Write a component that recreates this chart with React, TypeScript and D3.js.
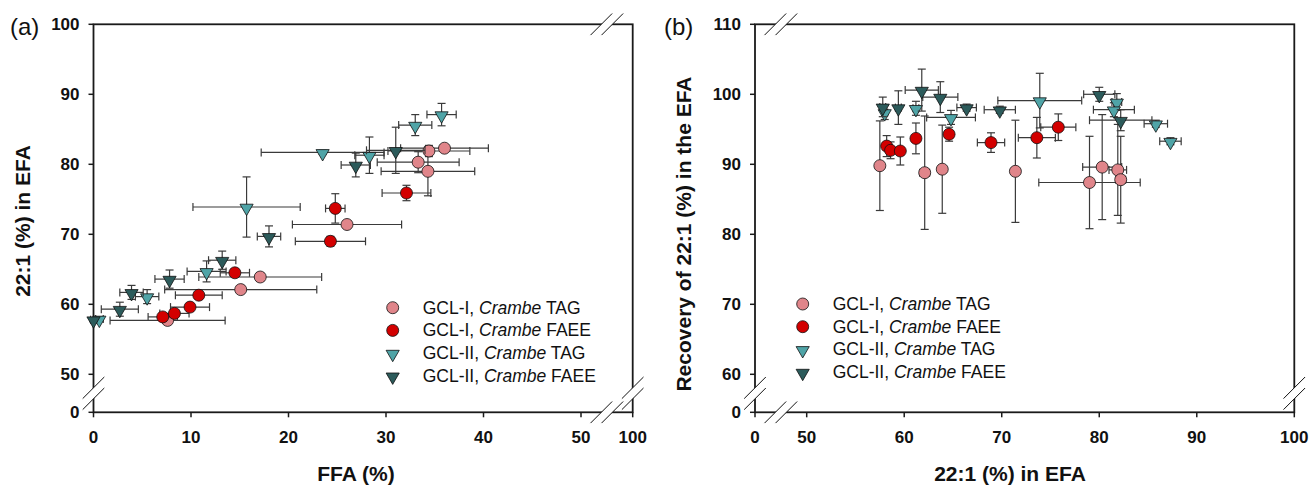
import React from 'react';
import * as d3 from 'd3';

// panel (a): FFA (%) vs 22:1 (%) in EFA
const aTagI_x = [36.0, 34.4, 33.3, 34.3, 26.0, 17.1, 15.1, 7.6];
const aTagI_y = [82.3, 81.9, 80.3, 79.0, 71.4, 63.9, 62.1, 57.7];
const aTagI_xe = [4.5, 4.2, 4.2, 4.8, 5.6, 6.3, 7.8, 5.9];
const aTagI_ye = [0.5, 0.8, 1.5, 3.5, 0.5, 0.6, 0.5, 0.5];

const aFaeeI_x = [32.1, 24.8, 24.3, 14.5, 10.8, 9.9, 8.3, 7.1];
const aFaeeI_y = [75.9, 73.7, 69.0, 64.5, 61.3, 59.6, 58.7, 58.2];
const aFaeeI_xe = [2.5, 1.0, 3.6, 1.5, 2.4, 2.0, 1.5, 1.5];
const aFaeeI_ye = [1.1, 2.1, 0.7, 0.5, 0.5, 0.5, 0.5, 0.5];

const aTagII_x = [35.7, 33.0, 23.5, 28.3, 15.7, 11.6, 5.5, 0.6];
const aTagII_y = [87.1, 85.6, 81.7, 81.3, 73.9, 64.7, 61.1, 57.9];
const aTagII_xe = [1.5, 1.7, 6.3, 1.5, 5.5, 2.0, 1.2, 0.4];
const aTagII_ye = [1.6, 1.5, 0.3, 2.6, 4.3, 1.5, 1.0, 0.3];

const aFaeeII_x = [31.0, 26.9, 18.0, 13.2, 7.8, 3.9, 2.7, 0.0];
const aFaeeII_y = [82.0, 79.9, 69.7, 66.3, 63.6, 61.7, 59.3, 57.8];
const aFaeeII_xe = [3.0, 1.5, 1.2, 1.4, 1.5, 1.2, 1.9, 0.3];
const aFaeeII_ye = [3.3, 1.7, 1.5, 1.3, 1.3, 1.0, 1.0, 0.3];

// panel (b): 22:1 (%) in EFA vs recovery of 22:1 (%)
const bTagI_x = [57.5, 62.1, 63.9, 71.4, 79.0, 80.3, 81.9, 82.2];
const bTagI_y = [89.8, 88.8, 89.3, 89.0, 87.4, 89.6, 89.2, 87.8];
const bTagI_xe = [0.3, 0.5, 0.3, 0.3, 5.2, 2.0, 0.9, 0.5];
const bTagI_ye = [6.4, 8.1, 6.3, 7.3, 6.6, 7.5, 6.5, 6.2];

const bFaeeI_x = [58.2, 58.6, 59.6, 61.2, 64.6, 68.9, 73.6, 75.8];
const bFaeeI_y = [92.6, 92.0, 91.9, 93.7, 94.3, 93.1, 93.8, 95.3];
const bFaeeI_xe = [0.3, 0.3, 0.3, 0.3, 0.4, 1.4, 1.9, 1.8];
const bFaeeI_ye = [1.5, 1.2, 2.0, 2.2, 1.0, 1.4, 2.9, 1.9];

const bTagII_x = [58.0, 61.2, 64.8, 73.9, 81.8, 81.5, 85.8, 87.3];
const bTagII_y = [97.4, 98.0, 96.7, 99.1, 98.9, 97.8, 95.8, 93.3];
const bTagII_xe = [0.3, 0.3, 2.5, 4.3, 0.5, 2.1, 1.2, 1.1];
const bTagII_ye = [1.0, 1.0, 1.0, 3.9, 1.2, 1.0, 0.5, 0.5];

const bFaeeII_x = [57.8, 59.4, 61.8, 63.7, 66.4, 69.8, 80.0, 82.2];
const bFaeeII_y = [98.2, 98.1, 100.6, 99.6, 98.1, 97.8, 100.0, 96.3];
const bFaeeII_xe = [0.3, 0.3, 1.7, 1.8, 1.0, 1.6, 1.6, 3.2];
const bFaeeII_ye = [1.4, 2.4, 3.0, 2.2, 0.5, 0.5, 1.0, 1.5];

const aXTicks = [0, 10, 20, 30, 40, 50, 100];
const aYTicks = [0, 50, 60, 70, 80, 90, 100];
const bXTicks = [0, 50, 60, 70, 80, 90, 100];
const bYTicks = [0, 60, 70, 80, 90, 100, 110];

const legendNames = ['GCL-I, ', 'GCL-I, ', 'GCL-II, ', 'GCL-II, '];
const legendTails = [' TAG', ' FAEE', ' TAG', ' FAEE'];

const colors = ['#e0858a', '#d30000', '#4fa4a7', '#2c5b5b'];
const shapes = ['circle', 'circle', 'tri', 'tri'];

const FONT = '"Liberation Sans", Arial, Helvetica, sans-serif';
const BAR = '#3a3a3a';

type Series = { x: number[]; y: number[]; xe: number[]; ye: number[] };

const panelA: Series[] = [
  { x: aTagI_x, y: aTagI_y, xe: aTagI_xe, ye: aTagI_ye },
  { x: aFaeeI_x, y: aFaeeI_y, xe: aFaeeI_xe, ye: aFaeeI_ye },
  { x: aTagII_x, y: aTagII_y, xe: aTagII_xe, ye: aTagII_ye },
  { x: aFaeeII_x, y: aFaeeII_y, xe: aFaeeII_xe, ye: aFaeeII_ye },
];
const panelB: Series[] = [
  { x: bTagI_x, y: bTagI_y, xe: bTagI_xe, ye: bTagI_ye },
  { x: bFaeeI_x, y: bFaeeI_y, xe: bFaeeI_xe, ye: bFaeeI_ye },
  { x: bTagII_x, y: bTagII_y, xe: bTagII_xe, ye: bTagII_ye },
  { x: bFaeeII_x, y: bFaeeII_y, xe: bFaeeII_xe, ye: bFaeeII_ye },
];

function Marker({ shape, cx, cy, fill }: { shape: string; cx: number; cy: number; fill: string }) {
  if (shape === 'circle') {
    return <circle cx={cx} cy={cy} r={6} fill={fill} stroke="#111" strokeWidth={0.8} />;
  }
  const tri = d3.symbol().type(d3.symbolTriangle).size(75)();
  return <path d={tri as string} transform={`translate(${cx},${cy + 1}) rotate(180)`} fill={fill} stroke="#111" strokeWidth={0.8} />;
}

// two slanted strokes with a white gap, drawn across an axis line
function Break({ cx, cy, horiz }: { cx: number; cy: number; horiz: boolean }) {
  const h = 10.8;
  const gap = 5.5;
  const o1 = horiz ? [cx - gap, cy] : [cx, cy + gap];
  const o2 = horiz ? [cx + gap, cy] : [cx, cy - gap];
  const seg = (p: number[]) => `M${p[0] - h},${p[1] + h}L${p[0] + h},${p[1] - h}`;
  const poly = horiz
    ? `M${o1[0] - 3},${cy + 3}L${o2[0] - 3},${cy + 3}L${o2[0] + 3},${cy - 3}L${o1[0] + 3},${cy - 3}Z`
    : `M${cx - 3},${o1[1] + 3}L${cx + 3},${o1[1] - 3}L${cx + 3},${o2[1] - 3}L${cx - 3},${o2[1] + 3}Z`;
  return (
    <g>
      <path d={poly} fill="white" />
      <path d={seg(o1)} stroke="#111" strokeWidth={1} fill="none" />
      <path d={seg(o2)} stroke="#111" strokeWidth={1} fill="none" />
    </g>
  );
}

function Panel(props: {
  data: Series[];
  x: d3.ScaleLinear<number, number>;
  y: d3.ScaleLinear<number, number>;
  xTicks: number[];
  yTicks: number[];
  xBreak: number;
  yBreak: number;
  label: string;
  labelX: number;
  xTitle: string;
  xTitleX: number;
  yTitle: string;
  yTitleX: number;
  yTitleY: number;
  legX: number;
  legY: number;
}) {
  const { data, x, y } = props;
  const [x0, x1] = [x.range()[0], x.range()[2]];
  const [y0, y1] = [y.range()[0], y.range()[2]];
  const cap = 4;
  return (
    <g fontFamily={FONT}>
      {/* frame */}
      <rect x={x0} y={y1} width={x1 - x0} height={y0 - y1} fill="none" stroke="#1a1a1a" strokeWidth={1.8} />
      {/* ticks */}
      {props.xTicks.map((t) => (
        <g key={'xt' + t}>
          <line x1={x(t)} x2={x(t)} y1={y0} y2={y0 + 5} stroke="#1a1a1a" strokeWidth={1.5} />
          <text x={x(t)} y={y0 + 31} textAnchor="middle" fontSize={17} fontWeight="bold" fill="#111">{t}</text>
        </g>
      ))}
      {props.yTicks.map((t) => (
        <g key={'yt' + t}>
          <line x1={x0 - 5} x2={x0} y1={y(t)} y2={y(t)} stroke="#1a1a1a" strokeWidth={1.5} />
          <text x={x0 - 14} y={y(t) + 6} textAnchor="end" fontSize={17} fontWeight="bold" fill="#111">{t}</text>
        </g>
      ))}
      {/* axis breaks */}
      <Break cx={props.xBreak} cy={y0} horiz />
      <Break cx={props.xBreak} cy={y1} horiz />
      <Break cx={x0} cy={props.yBreak} horiz={false} />
      <Break cx={x1} cy={props.yBreak} horiz={false} />
      {/* titles */}
      <text x={props.xTitleX} y={481} textAnchor="middle" fontSize={21} fontWeight="bold" fill="#111">{props.xTitle}</text>
      <text transform={`translate(${props.yTitleX},${props.yTitleY}) rotate(-90)`} textAnchor="middle" fontSize={21} fontWeight="bold" fill="#111">{props.yTitle}</text>
      <text x={props.labelX} y={35} fontSize={24} fill="#111">{props.label}</text>
      {/* data */}
      {data.map((s, si) => (
        <g key={'s' + si}>
          {s.x.map((v, i) => {
            const cx = x(v);
            const cy = y(s.y[i]);
            const xl = x(v - s.xe[i]);
            const xr = x(v + s.xe[i]);
            const yt = y(s.y[i] + s.ye[i]);
            const yb = y(s.y[i] - s.ye[i]);
            return (
              <g key={'e' + i} stroke={BAR} strokeWidth={1.2} fill="none">
                <line x1={xl} x2={xr} y1={cy} y2={cy} />
                <line x1={xl} x2={xl} y1={cy - cap} y2={cy + cap} />
                <line x1={xr} x2={xr} y1={cy - cap} y2={cy + cap} />
                <line x1={cx} x2={cx} y1={yt} y2={yb} />
                <line x1={cx - cap} x2={cx + cap} y1={yt} y2={yt} />
                <line x1={cx - cap} x2={cx + cap} y1={yb} y2={yb} />
              </g>
            );
          })}
          {s.x.map((v, i) => (
            <Marker key={'m' + i} shape={shapes[si]} cx={x(v)} cy={y(s.y[i])} fill={colors[si]} />
          ))}
        </g>
      ))}
      {/* legend */}
      {legendNames.map((n, i) => (
        <g key={'l' + i}>
          <Marker shape={shapes[i]} cx={props.legX} cy={props.legY + i * 22.7} fill={colors[i]} />
          <text x={props.legX + 30} y={props.legY + i * 22.7 + 6} fontSize={17.5} fill="#111">
            {n}
            <tspan fontStyle="italic">Crambe</tspan>
            {legendTails[i]}
          </text>
        </g>
      ))}
    </g>
  );
}

export default function App() {
  // broken axes: piecewise linear scales
  const xA = d3.scaleLinear().domain([0, 50, 100]).range([93.5, 581, 632.7]);
  const yA = d3.scaleLinear().domain([0, 50, 100]).range([412.3, 374.3, 24.3]);
  const xB = d3.scaleLinear().domain([0, 50, 100]).range([755, 806.7, 1294.3]);
  const yB = d3.scaleLinear().domain([0, 60, 110]).range([412.3, 374.3, 24.3]);

  return (
    <svg width={1311} height={488} style={{ position: 'absolute', left: 0, top: 0, background: 'white' }}>
      <Panel
        data={panelA} x={xA} y={yA} xTicks={aXTicks} yTicks={aYTicks}
        xBreak={xA(75)} yBreak={yA(25)}
        label="(a)" labelX={10}
        xTitle="FFA (%)" xTitleX={356}
        yTitle="22:1 (%) in EFA" yTitleX={30} yTitleY={221}
        legX={392.7} legY={307.7}
      />
      <Panel
        data={panelB} x={xB} y={yB} xTicks={bXTicks} yTicks={bYTicks}
        xBreak={xB(25)} yBreak={yB(30)}
        label="(b)" labelX={664}
        xTitle="22:1 (%) in EFA" xTitleX={1010}
        yTitle="Recovery of 22:1 (%) in the EFA" yTitleX={691} yTitleY={234}
        legX={802.7} legY={304}
      />
    </svg>
  );
}
